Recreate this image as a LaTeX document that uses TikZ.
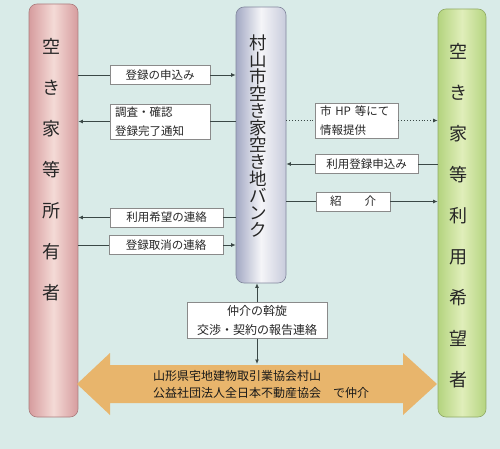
\documentclass[tikz,border=0pt]{standalone}
\usepackage{fontspec}
\setmainfont{Noto Sans CJK JP}
\usetikzlibrary{positioning, calc, arrows.meta}
\definecolor{akiBg}{HTML}{D9EBE8}
\definecolor{ownerDark}{HTML}{D69C9E}
\definecolor{ownerLight}{HTML}{F4DAD6}
\definecolor{bankDark}{HTML}{A3A9C4}
\definecolor{bankLight}{HTML}{F5F5F8}
\definecolor{userDark}{HTML}{B4D47F}
\definecolor{userLight}{HTML}{E0EEBA}
\definecolor{agencyFill}{HTML}{E8B56C}
\definecolor{akiLine}{HTML}{3A4846}
\definecolor{akiBorder}{HTML}{8A8A8A}
\newcommand{\akiTight}{\lineskiplimit -100pt\relax}
\tikzset{
    colBase/.style={
        rectangle,
        rounded corners=8pt,
        minimum width=49pt,
        inner sep=0pt
    },
    % Columns
    ownerCol/.style={colBase, draw=ownerDark!80!black, line width=0.6pt,
        left color=ownerDark, right color=ownerDark, middle color=ownerLight},
    bankCol/.style={colBase, draw=bankDark!80!black, line width=0.6pt,
        left color=bankDark, right color=bankDark!60, middle color=bankLight},
    userCol/.style={colBase, draw=userDark!80!black, line width=0.6pt,
        left color=userDark, right color=userDark, middle color=userLight},
    colText/.style={
        align=center,
        inner sep=0pt,
        font={\fontsize{18}{41}\selectfont\akiTight},
        text=black!85
    },
    bankText/.style={colText, font={\fontsize{17.5}{17}\selectfont\akiTight}},
    % Labels
    labelBox/.style={
        rectangle,
        draw=akiBorder,
        line width=0.6pt,
        fill=white,
        minimum height=19pt,
        inner xsep=5pt,
        inner ysep=3pt,
        font={\fontsize{11.5}{18.5}\selectfont\akiTight},
        text=black!85,
        align=center
    },
    agencyText/.style={
        align=left,
        inner sep=2pt,
        font={\fontsize{12}{17}\selectfont\akiTight},
        text=black!90
    },
    % Arrows
    flowLine/.style={draw=akiLine, line width=0.9pt},
    flowArrow/.style={flowLine, ->, >={Latex[length=4.5pt,width=4pt]}},
    infoArrow/.style={flowArrow, dotted, line width=1pt}
}

\begin{document}
\begin{tikzpicture}[x=1pt, y=-1pt, node distance=10pt]
    \fill[akiBg] (0,0) rectangle (500,449);
    \useasboundingbox (0,0) rectangle (500,449);

    % three columns
    \node[ownerCol, minimum height=413pt] (owner) at (53.5,210.5) {};
    \node[bankCol, minimum width=50pt, minimum height=276pt] (bank) at (261,145) {};
    \node[userCol, minimum width=48pt, minimum height=408pt] (user) at (462,213) {};
    \node[colText] (ownerTxt) at (51,170) {空\\き\\家\\等\\所\\有\\者};
    \node[bankText] (bankTxt) at (258,136.5) {村\\山\\市\\空\\き\\家\\空\\き\\地\\バ\\ン\\ク};
    \node[colText] (userTxt) at (458,215.5) {空\\き\\家\\等\\利\\用\\希\\望\\者};

    % owner <-> bank
    \node[labelBox, minimum width=100pt] (reg) at (160,75) {登録の申込み};
    \node[labelBox, text width=90pt, align=left] (survey) at (160,121.5) {調査・確認\\登録完了通知};
    \node[labelBox, minimum width=113pt] (wish) at (166.5,217.5) {利用希望の連絡};
    \node[labelBox, minimum width=114pt] (cancel) at (166,245) {登録取消の連絡};
    \draw[flowLine] (reg.west -| owner.east) -- (reg.west);
    \draw[flowArrow] (reg.east) -- (reg.east -| bank.west);
    \draw[flowArrow] (survey.west) -- (survey.west -| owner.east);
    \draw[flowLine] (survey.east) -- (survey.east -| bank.west);
    \draw[flowArrow] (wish.west) -- (wish.west -| owner.east);
    \draw[flowLine] (wish.east) -- (wish.east -| bank.west);
    \draw[flowLine] (cancel.west -| owner.east) -- (cancel.west);
    \draw[flowArrow] (cancel.east) -- (cancel.east -| bank.west);

    % bank <-> user
    \node[labelBox, text width=73pt, align=left] (info) at (356.5,120.5) {市 HP 等にて\\情報提供};
    \node[labelBox, minimum width=103pt] (apply) at (366.5,164) {利用登録申込み};
    \node[labelBox, minimum width=74pt] (intro) at (353,201.5) {紹　　介};
    \draw[infoArrow, -] (info.west -| bank.east) -- (info.west);
    \draw[infoArrow] (info.east) -- (info.east -| user.west);
    \draw[flowArrow] (apply.west) -- (apply.west -| bank.east);
    \draw[flowLine] (apply.east) -- (apply.east -| user.west);
    \draw[flowLine] (intro.west -| bank.east) -- (intro.west);
    \draw[flowArrow] (intro.east) -- (intro.east -| user.west);

    % agency arrow
    \fill[agencyFill] (77,384) -- (110,353) -- (110,365) -- (403,365) -- (403,353)
        -- (437,384) -- (403,415) -- (403,403) -- (110,403) -- (110,415) -- cycle;
    \node[agencyText, anchor=west] (agency) at (151,384) {山形県宅地建物取引業協会村山\\公益社団法人全日本不動産協会　で仲介};
    \coordinate (shaftTop) at (257,364);

    \node[labelBox, minimum width=140pt, font={\fontsize{12}{18.5}\selectfont\akiTight}] (broker) at (257,320.5) {仲介の斡旋\\交渉・契約の報告連絡};
    \draw[flowArrow] (broker.north) -- (broker.north |- bank.south);
    \draw[flowArrow] (broker.south) -- (shaftTop);
\end{tikzpicture}
\end{document}
